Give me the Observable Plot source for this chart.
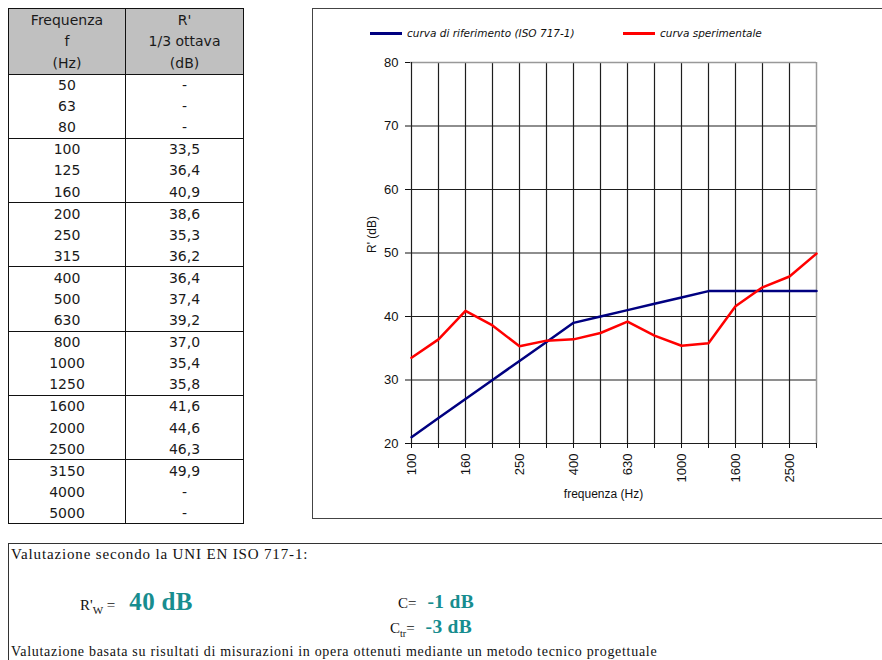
<!DOCTYPE html>
<html>
<head>
<meta charset="utf-8">
<script src="https://cdn.jsdelivr.net/npm/d3@7"></script>
<script src="https://cdn.jsdelivr.net/npm/@observablehq/plot@0.6"></script>
<style>
  html, body { margin: 0; padding: 0; width: 882px; height: 660px; overflow: hidden; background: #fff; }
  body { position: relative; font-family: "Liberation Sans", Arial, sans-serif; color: #111; }
  #tbl { position: absolute; left: 8px; top: 8px; width: 235px; border-collapse: collapse; border: 1px solid #111; font-family: "DejaVu Sans", sans-serif; font-size: 14px; table-layout: fixed; color: #1a1a1a; }
  #tbl td, #tbl th { padding: 0; text-align: center; font-weight: normal; border-left: 1px solid #111; line-height: 20px; }
  #tbl thead th { background: #c0c0c0; height: 21.5px; }
  #tbl thead tr:last-child th { border-bottom: 1px solid #111; }
  #tbl tbody { border-top: 1px solid #111; }
  #tbl tbody td { height: 21.1px; }
  #chartbox { position: absolute; left: 312px; top: 8px; width: 600px; height: 511px; border: 1px solid #444; box-sizing: border-box; }
  #plot { position: absolute; left: 312px; top: 8px; }
  .leg { position: absolute; top: 27px; font-family: "DejaVu Sans", sans-serif; font-size: 10.5px; font-style: italic; color: #111; white-space: nowrap; }
  .sw { position: absolute; height: 2.5px; top: 32px; }
  #evalbox { position: absolute; left: 8px; top: 543px; width: 900px; height: 140px; border: 1px solid #333; box-sizing: border-box; }
  .serif { position: absolute; font-family: "Liberation Serif", "Times New Roman", serif; color: #111; white-space: nowrap; }
  .teal { color: #178d8f; font-weight: bold; letter-spacing: 0.3px; }
</style>
</head>
<body>
<table id="tbl"></table>
<div id="chartbox"></div>
<div class="sw" style="left:370px;width:32px;background:#000080;"></div>
<div class="leg" style="left:407px;">curva di riferimento (ISO 717-1)</div>
<div class="sw" style="left:623px;width:32px;background:#ff0000;"></div>
<div class="leg" style="left:660px;">curva sperimentale</div>
<div id="plot"></div>
<div id="evalbox"></div>
<div class="serif" style="left:11px;top:546px;font-size:15px;letter-spacing:0.85px;">Valutazione secondo la UNI EN ISO 717-1:</div>
<div class="serif" style="left:80px;top:588px;font-size:15px;">R'<sub style="font-size:11px;">W</sub> =<span class="teal" style="font-size:25px;margin-left:14px;">40 dB</span></div>
<div class="serif" style="left:398px;top:591px;font-size:15px;">C=<span class="teal" style="font-size:19.5px;margin-left:11px;">-1 dB</span></div>
<div class="serif" style="left:390px;top:616px;font-size:15px;">C<sub style="font-size:10px;">tr</sub>=<span class="teal" style="font-size:19.5px;margin-left:11px;">-3 dB</span></div>
<div class="serif" style="left:11px;top:644px;font-size:14px;letter-spacing:0.7px;">Valutazione basata su risultati di misurazioni in opera ottenuti mediante un metodo tecnico progettuale</div>
<script>
// One-third octave band centre frequencies (Hz) listed in the table
const tableFreqs = [50, 63, 80, 100, 125, 160, 200, 250, 315, 400, 500, 630, 800, 1000, 1250, 1600, 2000, 2500, 3150, 4000, 5000];
// Measured apparent sound reduction index R' (dB); null = not measured
const tableR = [null, null, null, 33.5, 36.4, 40.9, 38.6, 35.3, 36.2, 36.4, 37.4, 39.2, 37.0, 35.4, 35.8, 41.6, 44.6, 46.3, 49.9, null, null];
// Chart bands (100–3150 Hz)
const bands = ["100", "125", "160", "200", "250", "315", "400", "500", "630", "800", "1000", "1250", "1600", "2000", "2500", "3150"];
// ISO 717-1 reference curve shifted to R'w = 40 dB
const referenceCurve = [21, 24, 27, 30, 33, 36, 39, 40, 41, 42, 43, 44, 44, 44, 44, 44];
// Labelled x ticks
const bandLabels = ["100", "160", "250", "400", "630", "1000", "1600", "2500"];
const yTicks = [20, 30, 40, 50, 60, 70, 80];

// ---- table ----
const fmt = v => v == null ? "-" : v.toFixed(1).replace(".", ",");
const tbl = document.getElementById("tbl");
let html = '<colgroup><col style="width:117px"><col style="width:118px"></colgroup><thead>';
[["Frequenza", "R'"], ["f", "1/3 ottava"], ["(Hz)", "(dB)"]].forEach(r => {
  html += `<tr><th style="border-left:none">${r[0]}</th><th>${r[1]}</th></tr>`;
});
html += "</thead>";
for (let g = 0; g < tableFreqs.length; g += 3) {
  html += "<tbody>";
  for (let i = g; i < g + 3; i++) {
    html += `<tr><td style="border-left:none">${tableFreqs[i]}</td><td>${fmt(tableR[i])}</td></tr>`;
  }
  html += "</tbody>";
}
tbl.innerHTML = html;

// ---- chart ----
const measured = tableFreqs
  .map((f, i) => ({band: String(f), value: tableR[i]}))
  .filter(d => d.value != null && bands.includes(d.band));
const reference = bands.map((b, i) => ({band: b, value: referenceCurve[i]}));

const gridColor = "#1e1e1e";
const chart = Plot.plot({
  width: 570,
  height: 512,
  marginLeft: 98,
  marginRight: 66,
  marginTop: 54,
  marginBottom: 77,
  style: {fontFamily: "'Liberation Sans', Arial, sans-serif", fontSize: "12px", color: "#111", background: "transparent"},
  x: {type: "point", domain: bands, padding: 0},
  y: {domain: [20, 80]},
  marks: [
    Plot.ruleX(bands.slice(1, -1), {stroke: gridColor, strokeWidth: 1.2}),
    Plot.ruleY(yTicks.slice(1, -1), {stroke: gridColor, strokeWidth: 1.2}),
    Plot.ruleX(bands.slice(-1), {stroke: "#999", strokeWidth: 1.5}),
    Plot.ruleY(yTicks.slice(-1), {stroke: "#999", strokeWidth: 1.5}),
    Plot.ruleX(bands.slice(0, 1), {stroke: gridColor, strokeWidth: 1.2}),
    Plot.ruleY(yTicks.slice(0, 1), {stroke: gridColor, strokeWidth: 1.2}),
    Plot.axisY(yTicks, {tickSize: 5, tickPadding: 7, fontSize: 13, label: null}),
    Plot.axisX(bands, {tickSize: 5, tickFormat: () => "", label: null}),
    Plot.axisX(bandLabels, {tickSize: 0, tickPadding: 10, tickRotate: -90, fontSize: 13, label: null}),
    // axis titles anchored to the frame
    Plot.text(["R' (dB)"], {frameAnchor: "left", dx: -38, rotate: -90, fontSize: 12}),
    Plot.text(["frequenza (Hz)"], {frameAnchor: "bottom", dy: 54, dx: -10, fontSize: 12}),
    Plot.line(reference, {x: "band", y: "value", stroke: "#000080", strokeWidth: 2.5}),
    Plot.line(measured, {x: "band", y: "value", stroke: "#ff0000", strokeWidth: 2.5})
  ]
});
document.getElementById("plot").appendChild(chart);
</script>
</body>
</html>
